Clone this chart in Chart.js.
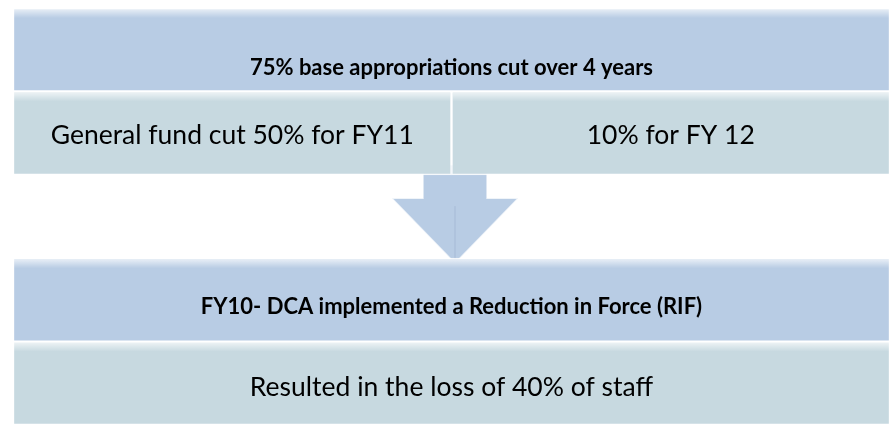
<!DOCTYPE html>
<html>
<head>
<meta charset="utf-8">
<script src="https://cdn.jsdelivr.net/npm/chart.js@4"></script>
<style>
html, body { margin: 0; padding: 0; background: #fff; }
#wrap { width: 893px; height: 427px; }
</style>
</head>
<body>
<div id="wrap"><canvas id="myChart"></canvas></div>
<script>
// 행(row) 구성 : 위 박스 2줄, 화살표, 아래 박스 2줄
const rows = ['top', 'topDetail', 'arrow', 'bottom', 'bottomDetail'];

// 헤더 박스 (진한 파랑)
const headerTexts = ['75% base appropriations cut over 4 years', '', '', 'FY10- DCA implemented a Reduction in Force (RIF)', ''];
const headerSpans = [[0, 100], null, null, [0, 100], null];

// 세부 박스 왼쪽 / 오른쪽 (회청색)
const leftTexts = ['', 'General fund cut 50% for FY11', '', '', 'Resulted in the loss of 40% of staff'];
const leftSpans = [null, [0, 50], null, null, [0, 100]];
const rightTexts = ['', '10% for FY 12', '', '', ''];
const rightSpans = [null, [50, 100], null, null, null];

const HEADER_COLOR = '#B8CCE4';
const DETAIL_COLOR = '#C7D9E0';
const ARROW_COLOR = '#B8CCE4';

//텍스트 그리기 플러그인
const boxText = {
	id: 'boxText',
	afterDatasetsDraw(chart, args, opts) {
		const ctx = chart.ctx;
		chart.data.datasets.forEach((ds, di) => {
			const meta = chart.getDatasetMeta(di);
			meta.data.forEach((el, i) => {
				const t = ds.texts[i];
				if (!t) return;
				const p = el.getProps(['x', 'y', 'base', 'height'], true);
				// 윗쪽 하이라이트 (베벨 느낌)
				const left = Math.min(p.x, p.base), right = Math.max(p.x, p.base);
				const top = p.y - p.height / 2;
				const g = ctx.createLinearGradient(0, top, 0, top + 10);
				g.addColorStop(0, 'rgba(255,255,255,0.75)');
				g.addColorStop(1, 'rgba(255,255,255,0)');
				ctx.save();
				ctx.fillStyle = g;
				ctx.fillRect(left + 1, top + 1, right - left - 2, 10);
				ctx.fillStyle = '#000';
				ctx.font = ds.font;
				ctx.textAlign = 'center';
				ctx.textBaseline = 'middle';
				ctx.fillText(t, (p.x + p.base) / 2, p.y + opts.shift[i]);
				ctx.restore();
			});
		});
	}
};

//가운데 아래 화살표 (화살표 행의 밴드 안에 그림)
const downArrow = {
	id: 'downArrow',
	beforeDatasetsDraw(chart) {
		const xs = chart.scales.x, ys = chart.scales.y;
		const idx = rows.indexOf('arrow');
		const band = ys.getPixelForValue(1) - ys.getPixelForValue(0);
		const top = ys.getPixelForValue(idx) - band / 2;
		const bottom = top + band;
		const cx = xs.getPixelForValue(50.4);
		const shaft = xs.getPixelForValue(3.65) - xs.getPixelForValue(0);
		const head = xs.getPixelForValue(7.2) - xs.getPixelForValue(0);
		const headTop = top + band * 0.28;
		const ctx = chart.ctx;
		ctx.save();
		ctx.beginPath();
		ctx.moveTo(cx - shaft, top - 10);
		ctx.lineTo(cx + shaft, top - 10);
		ctx.lineTo(cx + shaft, headTop);
		ctx.lineTo(cx + head, headTop);
		ctx.lineTo(cx, bottom + 5);
		ctx.lineTo(cx - head, headTop);
		ctx.lineTo(cx - shaft, headTop);
		ctx.closePath();
		ctx.fillStyle = ARROW_COLOR;
		ctx.fill();
		ctx.strokeStyle = 'rgba(255,255,255,0.7)';
		ctx.lineWidth = 1.5;
		ctx.stroke();
		// 화살촉 가운데 선
		ctx.beginPath();
		ctx.moveTo(cx, headTop + 8);
		ctx.lineTo(cx, bottom + 3);
		ctx.strokeStyle = 'rgba(150,170,200,0.5)';
		ctx.lineWidth = 1;
		ctx.stroke();
		ctx.restore();
	}
};

const ctx = document.getElementById('myChart');

new Chart(ctx, {
	type: 'bar',
	data: {
		labels: rows,
		datasets: [
			{
				label: 'header',
				data: headerSpans,
				texts: headerTexts,
				font: 'bold 22px Lato',
				backgroundColor: HEADER_COLOR,
				borderColor: 'rgba(255,255,255,0.85)',
				borderWidth: 1.5,
				borderSkipped: false,
				grouped: false,
				barPercentage: 1,
				categoryPercentage: 1
			},
			{
				label: 'left',
				data: leftSpans,
				texts: leftTexts,
				font: '26.5px Lato',
				backgroundColor: DETAIL_COLOR,
				borderColor: 'rgba(255,255,255,0.85)',
				borderWidth: 1.5,
				borderSkipped: false,
				grouped: false,
				barPercentage: 1,
				categoryPercentage: 1
			},
			{
				label: 'right',
				data: rightSpans,
				texts: rightTexts,
				font: '26.5px Lato',
				backgroundColor: DETAIL_COLOR,
				borderColor: 'rgba(255,255,255,0.85)',
				borderWidth: 1.5,
				borderSkipped: false,
				grouped: false,
				barPercentage: 1,
				categoryPercentage: 1
			}
		]
	},
	options: {
		indexAxis: 'y',
		responsive: true,
		maintainAspectRatio: false,
		animation: false,
		layout: { padding: { left: 13, right: 3, top: 8, bottom: 2 } },
		scales: {
			x: { type: 'linear', min: 0, max: 100, display: false },
			y: { display: false }
		},
		plugins: {
			legend: { display: false },
			tooltip: { enabled: false },
			boxText: { shift: [18, 2, 0, 7, 4] }
		}
	},
	plugins: [downArrow, boxText]
});
</script>
</body>
</html>
